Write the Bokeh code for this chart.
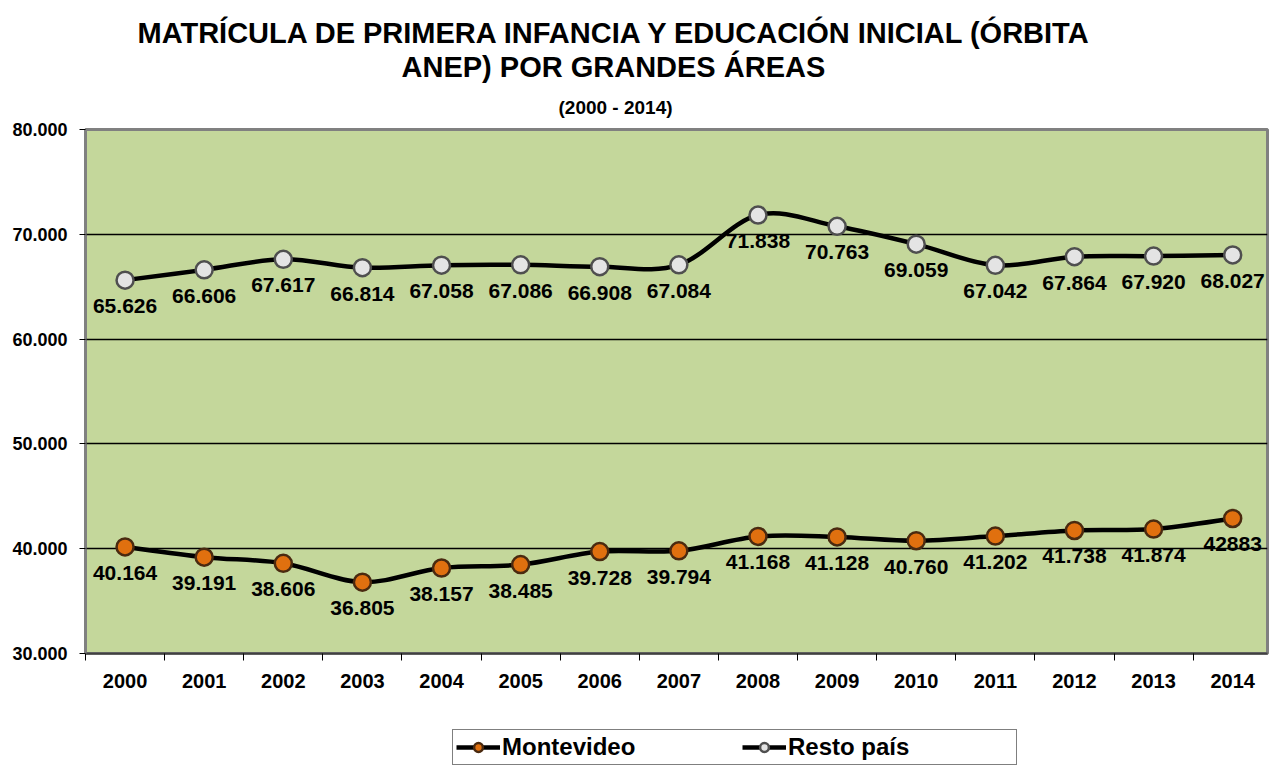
from bokeh.plotting import figure
from bokeh.models import (ColumnDataSource, FixedTicker, LabelSet, Legend, LegendItem, Title)
from bokeh.layouts import column
from bokeh.core.properties import value
from bokeh.embed import file_html
from bokeh.resources import INLINE

years = ["2000", "2001", "2002", "2003", "2004", "2005", "2006", "2007",
         "2008", "2009", "2010", "2011", "2012", "2013", "2014"]
montevideo = [40164, 39191, 38606, 36805, 38157, 38485, 39728, 39794,
              41168, 41128, 40760, 41202, 41738, 41874, 42883]
resto = [65626, 66606, 67617, 66814, 67058, 67086, 66908, 67084,
         71838, 70763, 69059, 67042, 67864, 67920, 68027]
montevideo_labels = ["40.164", "39.191", "38.606", "36.805", "38.157", "38.485", "39.728", "39.794",
                     "41.168", "41.128", "40.760", "41.202", "41.738", "41.874", "42883"]
resto_labels = ["65.626", "66.606", "67.617", "66.814", "67.058", "67.086", "66.908", "67.084",
                "71.838", "70.763", "69.059", "67.042", "67.864", "67.920", "68.027"]
y_ticks = [30000, 40000, 50000, 60000, 70000, 80000]
y_tick_labels = ["30.000", "40.000", "50.000", "60.000", "70.000", "80.000"]
series_names = ["Montevideo", "Resto país"]

FONT = "Liberation Sans"
xs = list(range(len(years)))
STYLES = [("#E0700F", "#4A2A10"), ("#E4E4E4", "#4F4F4F")]

p = figure(frame_width=1182, frame_height=524, x_range=(-0.5, 14.44), y_range=(30000, 80000),
           output_backend="svg", toolbar_location=None,
           min_border_left=85, min_border_right=2, min_border_top=129, min_border_bottom=76)
p.background_fill_color = "#C4D79B"
p.border_fill_color = "white"
p.outline_line_color = "#808080"
p.outline_line_width = 3

# Axes
yax = p.yaxis[0]
yax.ticker = FixedTicker(ticks=y_ticks)
yax.major_label_overrides = {t: l for t, l in zip(y_ticks, y_tick_labels)}
yax.major_tick_out = 6
yax.major_tick_in = 0
yax.minor_tick_out = 0
yax.minor_tick_in = 0
yax.axis_line_color = "#808080"
yax.axis_line_width = 2
yax.major_tick_line_color = "black"
yax.major_label_text_font = FONT
yax.major_label_text_font_size = "18px"
yax.major_label_text_font_style = "bold"
yax.major_label_text_color = "black"
yax.major_label_standoff = 12

xax = p.xaxis[0]
xax.ticker = FixedTicker(ticks=xs, minor_ticks=[i - 0.5 for i in range(len(years) + 1)])
xax.major_label_overrides = {i: y for i, y in zip(xs, years)}
xax.major_tick_out = 0
xax.major_tick_in = 0
xax.minor_tick_out = 7
xax.minor_tick_in = 0
xax.minor_tick_line_color = "black"
xax.axis_line_color = "#404040"
xax.axis_line_width = 2
xax.major_label_text_font = FONT
xax.major_label_text_font_size = "20px"
xax.major_label_text_font_style = "bold"
xax.major_label_text_color = "black"
xax.major_label_standoff = 13

p.xgrid.visible = False
p.ygrid.ticker = FixedTicker(ticks=[40000, 50000, 60000, 70000])
p.ygrid.grid_line_color = "black"
p.ygrid.grid_line_width = 1.5

# Titles (first added is nearest to the plot)
p.add_layout(Title(text="(2000 - 2014)", align="left", offset=473, standoff=24,
                   text_font=FONT, text_font_size="19px", text_font_style="bold",
                   text_color="black"), "above")
p.add_layout(Title(text="ANEP) POR GRANDES ÁREAS", align="left", offset=316, standoff=0,
                   text_font=FONT, text_font_size="29px", text_font_style="bold",
                   text_color="black"), "above")
p.add_layout(Title(text="MATRÍCULA DE PRIMERA INFANCIA Y EDUCACIÓN INICIAL (ÓRBITA",
                   align="left", offset=52, standoff=0,
                   text_font=FONT, text_font_size="29px", text_font_style="bold",
                   text_color="black"), "above")


def smooth_source(vals):
    n = len(vals)
    d = dict(x0=[], y0=[], x1=[], y1=[], cx0=[], cy0=[], cx1=[], cy1=[])
    for i in range(n - 1):
        im1 = max(i - 1, 0)
        ip2 = min(i + 2, n - 1)
        d["x0"].append(xs[i]); d["y0"].append(vals[i])
        d["x1"].append(xs[i + 1]); d["y1"].append(vals[i + 1])
        d["cx0"].append(xs[i] + (xs[i + 1] - xs[im1]) / 6)
        d["cy0"].append(vals[i] + (vals[i + 1] - vals[im1]) / 6)
        d["cx1"].append(xs[i + 1] - (xs[ip2] - xs[i]) / 6)
        d["cy1"].append(vals[i + 1] - (vals[ip2] - vals[i]) / 6)
    return ColumnDataSource(d)


for vals, labels, (fill, edge) in zip([montevideo, resto],
                                      [montevideo_labels, resto_labels], STYLES):
    src = ColumnDataSource(dict(x=xs, y=vals, lab=labels))
    p.bezier(x0="x0", y0="y0", x1="x1", y1="y1", cx0="cx0", cy0="cy0",
             cx1="cx1", cy1="cy1", source=smooth_source(vals),
             line_color="black", line_width=4.5)
    p.scatter(x="x", y="y", source=src, size=17, fill_color=fill,
              line_color=edge, line_width=2.5)
    p.add_layout(LabelSet(x="x", y="y", text="lab", source=src, text_align="center",
                          text_baseline="top", y_offset=-19, text_font=value(FONT),
                          text_font_size="21px", text_font_style="bold",
                          text_color="black"))

# Legend strip below the chart (its series lie outside the strip's range, only the key shows)
lg = figure(width=1269, height=36, x_range=(-0.5, 14.44), y_range=(0, 1),
            output_backend="svg", toolbar_location=None,
            min_border_left=0, min_border_right=0, min_border_top=0, min_border_bottom=0)
lg.xaxis.visible = False
lg.yaxis.visible = False
lg.xgrid.visible = False
lg.ygrid.visible = False
lg.outline_line_color = None
lg.background_fill_color = "white"
lg.border_fill_color = "white"

items = []
for name, vals, (fill, edge) in zip(series_names, [montevideo, resto], STYLES):
    ln = lg.line(x=xs, y=vals, line_color="black", line_width=4.5)
    mk = lg.scatter(x=xs, y=vals, size=17, fill_color=fill, line_color=edge, line_width=2.5)
    items.append(LegendItem(label=name, renderers=[ln, mk]))

legend = Legend(items=items, orientation="horizontal", location=(367, 0),
                glyph_width=44, glyph_height=22, label_standoff=2, label_width=225,
                spacing=15, padding=3, margin=0,
                label_text_font=FONT, label_text_font_size="24px",
                label_text_font_style="bold", label_text_color="black",
                border_line_color="black", border_line_width=1,
                background_fill_color="white", background_fill_alpha=1)
lg.add_layout(legend)

layout = column(p, lg, spacing=0)
open("out.html", "w").write(file_html(layout, INLINE))
